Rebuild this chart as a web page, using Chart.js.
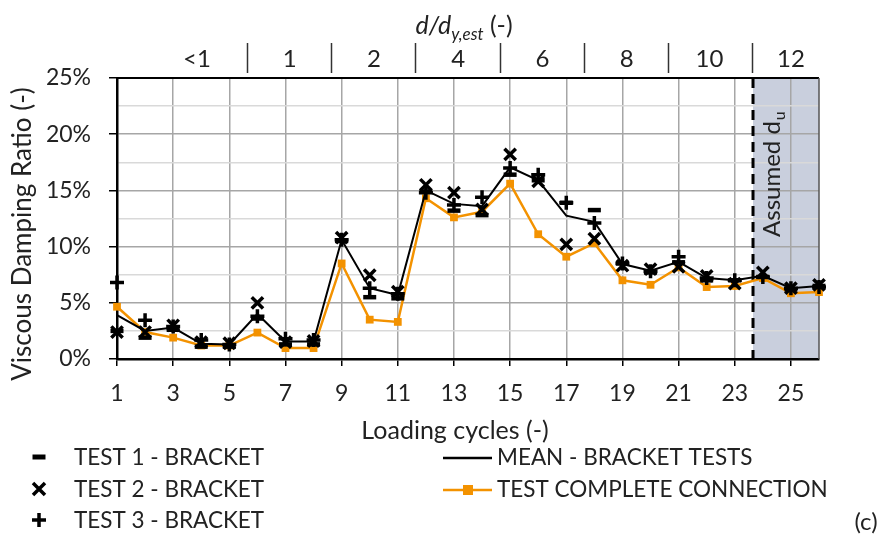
<!DOCTYPE html>
<html>
<head>
<meta charset="utf-8">
<script src="https://cdn.jsdelivr.net/npm/chart.js@4.4.1/dist/chart.umd.min.js"></script>
<style>
  html, body { margin: 0; padding: 0; background: #fff; }
  #wrap { width: 885px; height: 547px; position: relative; }
</style>
</head>
<body>
<div id="wrap"><canvas id="dampingChart"></canvas></div>
<script>
// loading cycles (bottom axis)
const cycles = [1, 2, 3, 4, 5, 6, 7, 8, 9, 10, 11, 12, 13, 14, 15, 16, 17, 18, 19, 20, 21, 22, 23, 24, 25, 26];

// viscous damping ratio in %
const test1Bracket = [2.5, 1.9, 2.6, 1.1, 1.1, 3.6, 1.3, 1.3, 10.5, 5.5, 5.4, 14.9, 13.2, 12.8, 16.4, 15.9, 13.9, 13.25, 8.5, 7.7, 8.6, 7.0, 7.0, 7.3, 6.2, 6.5];
const test2Bracket = [2.4, 2.4, 3.0, 1.5, 1.4, 5.0, 1.5, 1.6, 10.8, 7.45, 6.0, 15.5, 14.8, 13.3, 18.2, 15.8, 10.2, 10.7, 8.3, 8.0, 8.2, 7.4, 6.7, 7.7, 6.3, 6.6];
const test3Bracket = [6.8, 3.45, 2.9, 1.7, 1.3, 3.8, 1.8, 1.7, 10.6, 6.3, 5.8, 14.8, 13.7, 14.4, 17.0, 16.4, 13.9, 12.1, 8.5, 7.8, 9.1, 7.2, 7.0, 7.3, 6.3, 6.4];
const meanBracket = [3.9, 2.5, 2.8, 1.35, 1.3, 4.0, 1.55, 1.55, 10.6, 6.3, 5.7, 15.0, 13.8, 13.6, 17.05, 15.9, 12.75, 12.2, 8.45, 7.85, 8.65, 7.2, 7.0, 7.4, 6.3, 6.5];
const completeConnection = [4.65, 2.4, 1.9, 1.2, 1.2, 2.35, 0.97, 0.97, 8.5, 3.5, 3.3, 14.3, 12.6, 13.1, 15.6, 11.1, 9.1, 10.3, 7.0, 6.6, 8.15, 6.4, 6.5, 7.2, 5.85, 5.95];

// axis ticks
const xTicks = [1, 3, 5, 7, 9, 11, 13, 15, 17, 19, 21, 23, 25];
const yTicks = [0, 2.5, 5, 7.5, 10, 12.5, 15, 17.5, 20, 22.5, 25];

// top axis: d/dy,est groups (cycle units)
const ratioLabels = ['<1', '1', '2', '4', '6', '8', '10', '12'];
const ratioLabelAt = [3.85, 7.15, 10.15, 13.15, 16.15, 19.15, 22.1, 25.0];
const ratioBounds = [5.63, 8.63, 11.63, 14.63, 17.63, 20.63, 23.63];
const assumedUltimate = 23.65;

const FONT = 'Lato';
const TEXT = '#222';
const ORANGE = '#f39200';

const toPoints = arr => cycles.map((c, i) => ({ x: c, y: arr[i] }));

function drawMarker(ctx, style, x, y) {
  ctx.save();
  ctx.strokeStyle = '#000';
  ctx.lineWidth = 3.5;
  ctx.beginPath();
  if (style === 'line') {
    ctx.lineWidth = 5;
    ctx.moveTo(x - 6.5, y); ctx.lineTo(x + 6.5, y);
  } else if (style === 'crossRot') {
    ctx.moveTo(x - 6, y - 6); ctx.lineTo(x + 6, y + 6);
    ctx.moveTo(x + 6, y - 6); ctx.lineTo(x - 6, y + 6);
  } else {
    ctx.moveTo(x - 7, y); ctx.lineTo(x + 7, y);
    ctx.moveTo(x, y - 7); ctx.lineTo(x, y + 7);
  }
  ctx.stroke();
  ctx.restore();
}

const decorations = {
  id: 'decorations',
  beforeDraw(chart) {
    const { ctx, chartArea: a, scales: { x } } = chart;
    const xs = x.getPixelForValue(assumedUltimate);
    ctx.save();
    ctx.fillStyle = '#c9cfdd';
    ctx.fillRect(xs, a.top, a.right - xs, a.bottom - a.top);
    ctx.restore();
  },
  beforeDatasetsDraw(chart) {
    const { ctx, chartArea: a, scales: { x } } = chart;
    const xs = x.getPixelForValue(assumedUltimate);
    ctx.save();
    // plot frame: top and right
    ctx.strokeStyle = '#000';
    ctx.lineWidth = 2;
    ctx.beginPath();
    ctx.moveTo(a.left, a.top); ctx.lineTo(a.right, a.top);
    ctx.stroke();
    ctx.strokeStyle = '#555';
    ctx.lineWidth = 1.5;
    ctx.beginPath();
    ctx.moveTo(a.right, a.top); ctx.lineTo(a.right, a.bottom);
    ctx.stroke();
    // assumed ultimate displacement
    ctx.strokeStyle = '#000';
    ctx.lineWidth = 3;
    ctx.setLineDash([10, 6]);
    ctx.beginPath();
    ctx.moveTo(xs, a.top); ctx.lineTo(xs, a.bottom);
    ctx.stroke();
    ctx.setLineDash([]);
    ctx.translate(780, 237);
    ctx.rotate(-Math.PI / 2);
    ctx.fillStyle = TEXT;
    ctx.textBaseline = 'alphabetic';
    ctx.textAlign = 'left';
    ctx.font = `24px ${FONT}`;
    ctx.fillText('Assumed d', 0, 0);
    const w = ctx.measureText('Assumed d').width;
    ctx.font = `16px ${FONT}`;
    ctx.fillText('u', w + 1, 5);
    ctx.restore();
  },
  afterDraw(chart) {
    const { ctx, scales: { x } } = chart;
    ctx.save();
    ctx.fillStyle = TEXT;
    ctx.textBaseline = 'middle';

    // axis titles
    ctx.textAlign = 'center';
    ctx.font = `25px ${FONT}`;
    ctx.fillText('Loading cycles (-)', 455, 431);
    ctx.save();
    ctx.translate(23, 234);
    ctx.rotate(-Math.PI / 2);
    ctx.font = `26px ${FONT}`;
    ctx.fillText('Viscous Damping Ratio (-)', 0, 0);
    ctx.restore();

    // top axis separators and labels
    ctx.strokeStyle = '#333';
    ctx.lineWidth = 1.5;
    ratioBounds.forEach(b => {
      const px = Math.round(x.getPixelForValue(b)) + 0.5;
      ctx.beginPath();
      ctx.moveTo(px, 43); ctx.lineTo(px, 73);
      ctx.stroke();
    });
    ctx.font = `24px ${FONT}`;
    ratioLabels.forEach((t, i) => ctx.fillText(t, x.getPixelForValue(ratioLabelAt[i]), 59));

    // top axis title d/d_y,est (-)
    ctx.textAlign = 'left';
    ctx.textBaseline = 'alphabetic';
    const pieces = [
      { t: 'd/d', f: `italic 25px ${FONT}`, dy: 0 },
      { t: 'y,est', f: `italic 17px ${FONT}`, dy: 6 },
      { t: ' (-)', f: `25px ${FONT}`, dy: 0 }
    ];
    let total = 0;
    pieces.forEach(p => { ctx.font = p.f; p.w = ctx.measureText(p.t).width; total += p.w; });
    let cx = 464 - total / 2;
    pieces.forEach(p => { ctx.font = p.f; ctx.fillText(p.t, cx, 34 + p.dy); cx += p.w; });

    // legend
    ctx.textBaseline = 'middle';
    ctx.font = `22.5px ${FONT}`;
    const rows = [457, 489, 520];
    const left = [
      { style: 'line', text: chart.data.datasets[0].label },
      { style: 'crossRot', text: chart.data.datasets[1].label },
      { style: 'cross', text: chart.data.datasets[2].label }
    ];
    left.forEach((it, i) => {
      drawMarker(ctx, it.style, 39, rows[i]);
      ctx.fillText(it.text, 74, rows[i] + 1);
    });
    // mean
    ctx.strokeStyle = '#000';
    ctx.lineWidth = 2.5;
    ctx.beginPath();
    ctx.moveTo(443, rows[0] + 1); ctx.lineTo(492, rows[0] + 1);
    ctx.stroke();
    ctx.fillText(chart.data.datasets[3].label, 497, rows[0] + 1);
    // complete connection
    ctx.strokeStyle = ORANGE;
    ctx.beginPath();
    ctx.moveTo(443, rows[1] + 1); ctx.lineTo(492, rows[1] + 1);
    ctx.stroke();
    ctx.fillStyle = ORANGE;
    ctx.fillRect(463, rows[1] - 4, 10, 10);
    ctx.fillStyle = TEXT;
    ctx.fillText(chart.data.datasets[4].label, 497, rows[1] + 1);

    ctx.textAlign = 'center';
    ctx.font = `24px ${FONT}`;
    ctx.fillText('(c)', 866, 522);
    ctx.restore();
  }
};

const tickFont = { family: FONT, size: 23 };

new Chart(document.getElementById('dampingChart'), {
  type: 'line',
  data: {
    datasets: [
      {
        label: 'TEST 1 - BRACKET',
        data: toPoints(test1Bracket),
        showLine: false,
        clip: false,
        pointStyle: 'line',
        pointRadius: 6.5,
        pointBorderWidth: 4.5,
        borderColor: '#000',
        backgroundColor: '#000'
      },
      {
        label: 'TEST 2 - BRACKET',
        data: toPoints(test2Bracket),
        showLine: false,
        clip: false,
        pointStyle: 'crossRot',
        pointRadius: 8,
        pointBorderWidth: 3.5,
        borderColor: '#000',
        backgroundColor: '#000'
      },
      {
        label: 'TEST 3 - BRACKET',
        data: toPoints(test3Bracket),
        showLine: false,
        clip: false,
        pointStyle: 'cross',
        pointRadius: 7,
        pointBorderWidth: 3.5,
        borderColor: '#000',
        backgroundColor: '#000'
      },
      {
        label: 'MEAN - BRACKET TESTS',
        data: toPoints(meanBracket),
        clip: false,
        borderColor: '#000',
        borderWidth: 2,
        pointRadius: 0
      },
      {
        label: 'TEST COMPLETE CONNECTION',
        data: toPoints(completeConnection),
        clip: false,
        borderColor: ORANGE,
        backgroundColor: ORANGE,
        borderWidth: 2.5,
        pointStyle: 'rect',
        pointRadius: 5.5,
        pointBorderWidth: 0
      }
    ]
  },
  options: {
    responsive: true,
    maintainAspectRatio: false,
    animation: false,
    layout: { padding: { top: 78, right: 66, bottom: 100, left: 0 } },
    plugins: {
      legend: { display: false },
      tooltip: { enabled: false }
    },
    scales: {
      x: {
        type: 'linear',
        min: 1,
        max: 26,
        afterBuildTicks: s => { s.ticks = xTicks.map(v => ({ value: v })); },
        afterFit: s => { s.height = 88; },
        grid: { color: '#a6a6a6', lineWidth: 1.5, tickColor: '#000', tickLength: 7 },
        border: { color: '#000', width: 2.5 },
        ticks: { color: TEXT, font: tickFont, padding: 14, maxRotation: 0, autoSkip: false }
      },
      y: {
        min: 0,
        max: 25,
        afterBuildTicks: s => { s.ticks = yTicks.map(v => ({ value: v })); },
        afterFit: s => { s.width = 117; },
        grid: {
          color: c => (c.tick && c.tick.value % 5 === 0) ? '#a6a6a6' : '#d9d9d9',
          tickColor: c => (c.tick && c.tick.value % 5 === 0) ? '#000' : 'rgba(0,0,0,0)',
          lineWidth: 1.5,
          tickLength: 8
        },
        border: { color: '#000', width: 2.5 },
        ticks: {
          color: TEXT,
          font: tickFont,
          padding: 18,
          autoSkip: false,
          callback: v => (v % 5 === 0 ? v + '%' : '')
        }
      }
    }
  },
  plugins: [decorations]
});
</script>
</body>
</html>
